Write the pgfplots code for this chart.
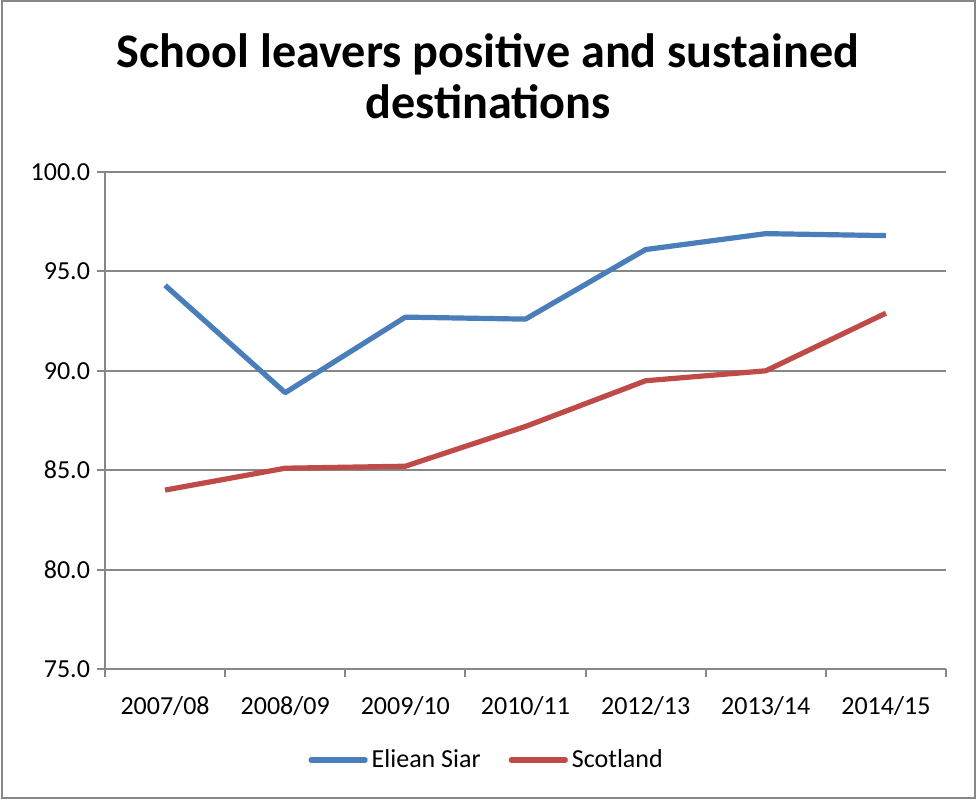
\documentclass[border=0pt]{standalone}
\usepackage{pgfplots}
\pgfplotsset{compat=1.18}
\usepackage{fontspec}
\setmainfont{Carlito}
\definecolor{sblue}{HTML}{4A7EBB}
\definecolor{sred}{HTML}{BE4B48}
\definecolor{axgray}{HTML}{878787}
\begin{document}
\begin{tikzpicture}[x=1pt,y=1pt]
\useasboundingbox (0,0) rectangle (488,400);
\draw[axgray, line width=1pt] (1,0.8) rectangle (487.5,399.5);
\node[anchor=base, font=\fontsize{24.1}{27}\selectfont\bfseries] at (244,366) {School leavers positive and sustained};
\node[anchor=base, font=\fontsize{24.1}{27}\selectfont\bfseries] at (244,341) {destinations};
\begin{axis}[
  at={(52.5pt,65.5pt)}, anchor=south west,
  scale only axis, width=420.5pt, height=248.5pt,
  xmin=-0.5, xmax=6.5, ymin=75, ymax=100,
  axis x line*=bottom, axis y line*=left,
  axis line style={axgray, line width=1pt, -},
  xtick={0,...,6},
  xticklabels={2007/08,2008/09,2009/10,2010/11,2012/13,2013/14,2014/15},
  minor xtick={-0.5,0.5,...,6.5},
  major x tick style={draw=none},
  minor x tick style={axgray, line width=1pt},
  ytick={75,80,...,100},
  y tick style={axgray, line width=1pt},
  tick align=outside,
  major tick length=4pt, minor tick length=4pt,
  ymajorgrids, major grid style={axgray, line width=1pt},
  /pgf/number format/assume math mode=true,
  yticklabel style={/pgf/number format/.cd, fixed, fixed zerofill, precision=1},
  xticklabel style={yshift=-6pt},
  tick label style={font=\fontsize{13}{15}\selectfont, text=black},
  legend style={at={(axis description cs:0.455,-0.183)}, anchor=center, draw=none, legend columns=2,
    font=\fontsize{13}{15}\selectfont, /tikz/every even column/.append style={column sep=12pt}},
  legend image code/.code={\draw[#1, line cap=round] (0pt,0pt) -- (27pt,0pt);},
]
\addplot[sblue, line width=2.6pt, line join=round] coordinates {
(0,94.3) (1,88.9) (2,92.7) (3,92.6) (4,96.1) (5,96.9) (6,96.8)};
\addlegendentry{Eliean Siar}
\addplot[sred, line width=2.6pt, line join=round] coordinates {
(0,84.0) (1,85.1) (2,85.2) (3,87.2) (4,89.5) (5,90.0) (6,92.9)};
\addlegendentry{Scotland}
\end{axis}
\end{tikzpicture}
\end{document}
